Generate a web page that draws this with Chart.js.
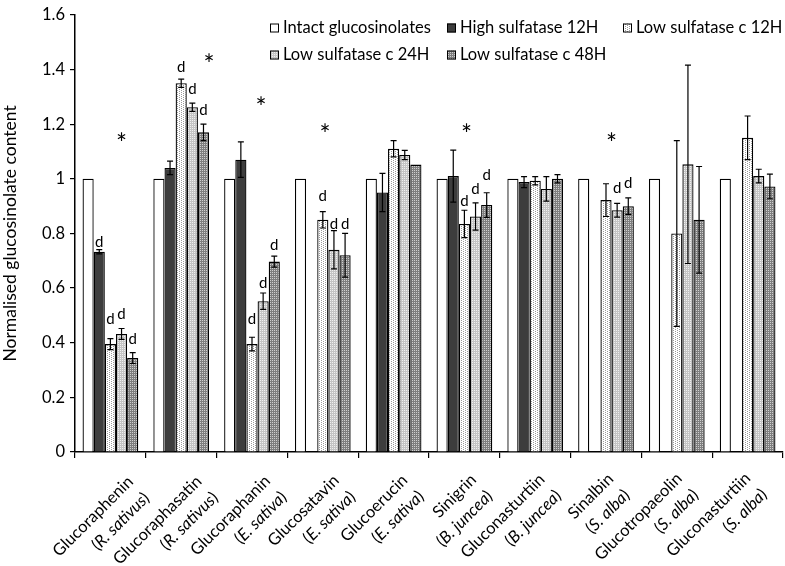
<!DOCTYPE html>
<html>
<head>
<meta charset="utf-8">
<script src="https://cdn.jsdelivr.net/npm/chart.js@4/dist/chart.umd.min.js"></script>
<style>
  html, body { margin: 0; padding: 0; background: #fff; }
  #wrap { width: 785px; height: 566px; position: relative; }
</style>
</head>
<body>
<div id="wrap"><canvas id="chart"></canvas></div>
<script>
// ── Data ──
const compounds = ['Glucoraphenin', 'Glucoraphasatin', 'Glucoraphanin', 'Glucosatavin', 'Glucoerucin',
    'Sinigrin', 'Gluconasturtiin', 'Sinalbin', 'Glucotropaeolin', 'Gluconasturtiin'];
const species = ['R. sativus', 'R. sativus', 'E. sativa', 'E. sativa', 'E. sativa',
    'B. juncea', 'B. juncea', 'S. alba', 'S. alba', 'S. alba'];

const seriesNames = ['Intact glucosinolates', 'High sulfatase 12H', 'Low sulfatase c 12H',
    'Low sulfatase c 24H', 'Low sulfatase c 48H'];

const intact    = [1, 1, 1, 1, 1, 1, 1, 1, 1, 1];
const intactErr = [0, 0, 0, 0, 0, 0, 0, 0, 0, 0];
const high      = [0.733, 1.04, 1.07, null, 0.95, 1.01, 0.988, null, null, null];
const highErr   = [0.008, 0.025, 0.065, 0, 0.07, 0.095, 0.02, 0, 0, 0];
const low12     = [0.395, 1.35, 0.395, 0.85, 1.11, 0.835, 0.993, 0.922, 0.80, 1.15];
const low12Err  = [0.02, 0.015, 0.025, 0.03, 0.03, 0.05, 0.015, 0.06, 0.34, 0.08];
const low24     = [0.432, 1.262, 0.552, 0.74, 1.087, 0.862, 0.963, 0.885, 1.053, 1.01];
const low24Err  = [0.02, 0.015, 0.03, 0.07, 0.017, 0.05, 0.045, 0.025, 0.363, 0.025];
const low48     = [0.344, 1.17, 0.697, 0.72, 1.052, 0.904, 1.0, 0.90, 0.85, 0.972];
const low48Err  = [0.02, 0.03, 0.02, 0.08, 0, 0.045, 0.015, 0.03, 0.195, 0.045];

const yTicks = [0, 0.2, 0.4, 0.6, 0.8, 1, 1.2, 1.4, 1.6];

// "d" marks: [category, series, y]
const dMarks = [
    [0, 1, 0.767], [0, 2, 0.485], [0, 3, 0.503], [0, 4, 0.413],
    [1, 2, 1.407], [1, 3, 1.328], [1, 4, 1.252],
    [2, 2, 0.485], [2, 3, 0.619], [2, 4, 0.757],
    [3, 2, 0.938], [3, 3, 0.833], [3, 4, 0.833],
    [5, 2, 0.919], [5, 3, 0.963], [5, 4, 1.014],
    [7, 3, 0.966], [7, 4, 0.985]
];
// "*" marks: [category, slot, y]
const starMarks = [
    [0, 3, 1.147], [1, 4.5, 1.437], [2, 2.8, 1.28], [3, 2.2, 1.18], [5, 2.2, 1.18], [7, 2.5, 1.147]
];

// ── Patterns ──
function makePattern(bg, fg, dots) {
    const c = document.createElement('canvas');
    c.width = 4; c.height = 4;
    const g = c.getContext('2d');
    g.fillStyle = bg;
    g.fillRect(0, 0, 4, 4);
    g.fillStyle = fg;
    dots.forEach(d => g.fillRect(d[0], d[1], 1, 1));
    return g.createPattern(c, 'repeat');
}
const ctx0 = document.getElementById('chart').getContext('2d');
const fills = [
    '#ffffff',
    '#3d3d3d',
    makePattern('#ffffff', '#9a9a9a', [[1, 0], [1, 2], [3, 1], [3, 3]]),
    makePattern('#c4c4c4', '#f0f0f0', [[0, 0], [2, 2], [2, 0], [0, 2]]),
    makePattern('#7e7e7e', '#cfcfcf', [[0, 0], [2, 0], [0, 2], [2, 2]])
];

const values = [intact, high, low12, low24, low48];
const errors = [intactErr, highErr, low12Err, low24Err, low48Err];

const FONT = "Lato, 'Open Sans', sans-serif";

// ── Custom drawing: error bars, marks, legend, category labels ──
const extras = {
    id: 'extras',
    afterDatasetsDraw(chart) {
        const ctx = chart.ctx;
        const y = chart.scales.y;
        ctx.save();
        ctx.strokeStyle = '#000';
        ctx.lineWidth = 1.2;
        values.forEach((arr, si) => {
            const meta = chart.getDatasetMeta(si);
            arr.forEach((v, ci) => {
                const e = errors[si][ci];
                if (v === null || !e) return;
                const x = meta.data[ci].x;
                const y1 = y.getPixelForValue(v + e), y2 = y.getPixelForValue(v - e);
                ctx.beginPath();
                ctx.moveTo(x, y1); ctx.lineTo(x, y2);
                ctx.moveTo(x - 3, y1); ctx.lineTo(x + 3, y1);
                ctx.moveTo(x - 3, y2); ctx.lineTo(x + 3, y2);
                ctx.stroke();
            });
        });

        ctx.fillStyle = '#000';
        ctx.textAlign = 'center';
        ctx.textBaseline = 'middle';
        ctx.font = '15px ' + FONT;
        dMarks.forEach(m => {
            const x = chart.getDatasetMeta(m[1]).data[m[0]].x;
            ctx.fillText('d', x, y.getPixelForValue(m[2]));
        });
        ctx.font = '26px ' + FONT;
        const xs = chart.scales.x;
        const catW = xs.getPixelForValue(1) - xs.getPixelForValue(0);
        const groupW = catW * 0.787;
        starMarks.forEach(m => {
            const cx = xs.getPixelForValue(m[0]);
            const x = cx - groupW / 2 + (m[1] + 0.5) * groupW / 5;
            ctx.fillText('*', x, y.getPixelForValue(m[2]) + 6);
        });
        ctx.restore();
    },
    afterDraw(chart) {
        const ctx = chart.ctx;
        const xs = chart.scales.x;
        const bottom = chart.chartArea.bottom;
        ctx.save();
        ctx.fillStyle = '#000';

        // legend
        const cols = [270, 447, 623];
        const rows = [28, 55];
        ctx.font = '16.5px ' + FONT;
        ctx.textBaseline = 'middle';
        ctx.textAlign = 'left';
        seriesNames.forEach((name, i) => {
            const bx = cols[i % 3], by = rows[Math.floor(i / 3)];
            ctx.fillStyle = fills[i];
            ctx.fillRect(bx, by - 4.5, 9, 9);
            ctx.strokeStyle = '#000';
            ctx.lineWidth = 1;
            ctx.strokeRect(bx + 0.5, by - 4, 8, 8);
            ctx.fillStyle = '#000';
            ctx.fillText(name, bx + 13, by);
        });

        // category labels, rotated, species in italics
        // (label row is spaced a little tighter than the categories so the last one fits)
        const lh = 23;
        const up = '16.5px ' + FONT, it = 'italic 16.5px ' + FONT;
        const x0c = xs.getPixelForValue(0);
        const step = (xs.getPixelForValue(1) - x0c) * 0.969;
        compounds.forEach((name, i) => {
            ctx.save();
            ctx.translate(x0c + 20 + i * step, bottom + 27 - i * 0.4);
            ctx.rotate(-Math.PI / 4);
            ctx.textBaseline = 'middle';
            ctx.textAlign = 'right';
            ctx.font = up;
            ctx.fillText(name, 0, 0);
            // second line: "(" + italic species + ")"
            const wOpen = ctx.measureText('(').width;
            const wClose = ctx.measureText(')').width;
            ctx.font = it;
            const wSp = ctx.measureText(species[i]).width;
            const sx = -(wOpen + wSp + wClose);
            ctx.textAlign = 'left';
            ctx.font = up;
            ctx.fillText('(', sx, lh);
            ctx.font = it;
            ctx.fillText(species[i], sx + wOpen, lh);
            ctx.font = up;
            ctx.fillText(')', sx + wOpen + wSp, lh);
            ctx.restore();
        });
        ctx.restore();
    }
};

new Chart(ctx0, {
    type: 'bar',
    data: {
        labels: compounds.map((c, i) => c + ' (' + species[i] + ')'),
        datasets: values.map((arr, i) => ({
            label: seriesNames[i],
            data: arr,
            backgroundColor: fills[i],
            borderColor: '#000',
            borderWidth: 1.3,
            borderSkipped: 'bottom',
            barPercentage: 1,
            categoryPercentage: 0.787
        }))
    },
    options: {
        responsive: true,
        maintainAspectRatio: false,
        animation: false,
        layout: { padding: { top: 10, right: 2, left: 0, bottom: 0 } },
        plugins: {
            legend: { display: false },
            tooltip: { enabled: false }
        },
        scales: {
            x: {
                grid: { display: true, drawOnChartArea: false, drawTicks: true, tickLength: 6, color: '#000', lineWidth: 1.2, offset: true },
                border: { color: '#000', width: 1.5 },
                ticks: { display: false },
                afterFit: s => { s.height = 114; }
            },
            y: {
                min: 0,
                max: 1.6,
                afterBuildTicks: s => { s.ticks = yTicks.map(v => ({ value: v })); },
                grid: { display: true, drawOnChartArea: false, drawTicks: true, tickLength: 5, color: '#000', lineWidth: 1.2 },
                border: { color: '#000', width: 1.5 },
                ticks: {
                    color: '#000',
                    padding: 5,
                    font: { family: FONT, size: 16.5 },
                    callback: v => String(+v.toFixed(1))
                },
                title: {
                    display: true,
                    text: 'Normalised glucosinolate content',
                    color: '#000',
                    font: { family: FONT, size: 17.5 },
                    padding: 0
                },
                afterFit: s => { s.width = 75; }
            }
        }
    },
    plugins: [extras]
});
</script>
</body>
</html>
